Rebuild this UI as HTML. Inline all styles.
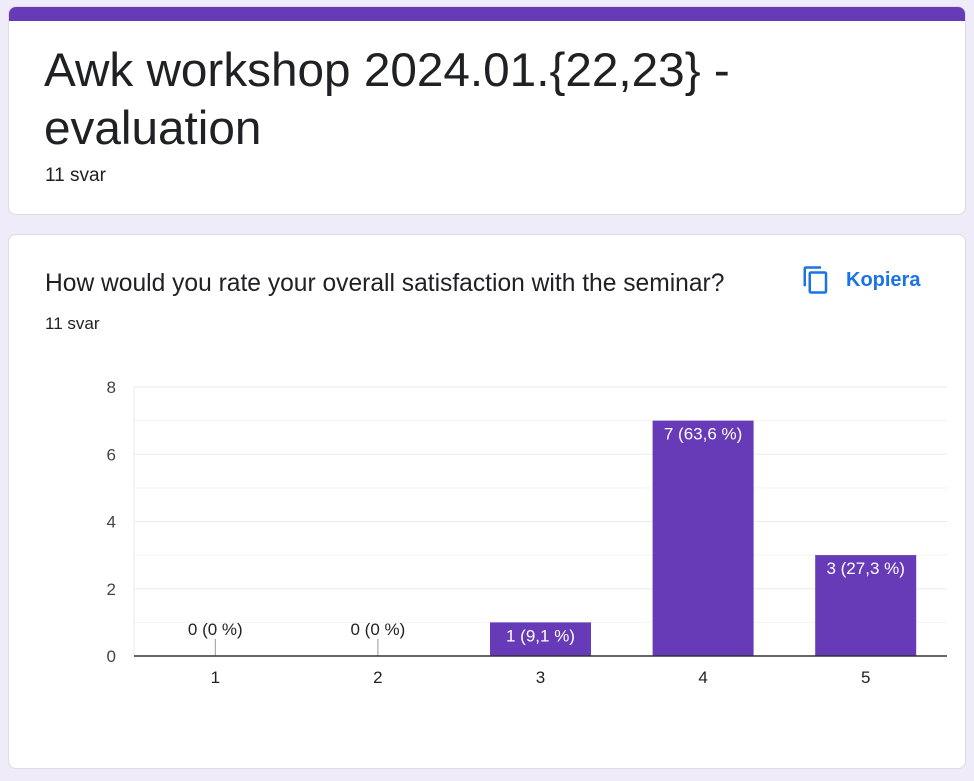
<!DOCTYPE html>
<html><head><meta charset="utf-8"><style>
body{margin:0;width:974px;height:781px;background:#efebf8;font-family:"Liberation Sans",sans-serif;position:relative;overflow:hidden}
.card{position:absolute;left:8px;width:958px;background:#fff;border:1px solid #dadce0;border-radius:8px;box-sizing:border-box;overflow:hidden}
</style></head><body>
<div class="card" style="top:6px;height:209px">
 <div style="height:14px;background:#673ab7"></div>
 <div style="position:absolute;left:35px;top:35px;font-size:47.7px;line-height:58px;color:#202124;width:850px">Awk workshop 2024.01.{22,23} - evaluation</div>
 <div style="position:absolute;left:36px;top:158px;font-size:19px;color:#202124">11 svar</div>
</div>
<div class="card" style="top:234px;height:535px">
 <div style="position:absolute;left:36px;top:35px;font-size:24.6px;color:#202124;white-space:nowrap">How would you rate your overall satisfaction with the seminar?</div>
 <div style="position:absolute;left:36px;top:79px;font-size:17px;color:#202124">11 svar</div>
 <div style="position:absolute;left:792px;top:28px;height:34px;display:flex;align-items:center;color:#1a73e8;font-size:20px;font-weight:bold">
  <svg width="30" height="32" viewBox="0 0 24 24" style="margin-right:15px"><path fill="#1a73e8" d="M16 1H4c-1.1 0-2 .9-2 2v14h2V3h12V1zm3 4H8c-1.1 0-2 .9-2 2v14c0 1.1.9 2 2 2h11c1.1 0 2-.9 2-2V7c0-1.1-.9-2-2-2zm0 16H8V7h11v14z"/></svg>Kopiera</div>
</div>
<svg id="chart" width="974" height="781" style="position:absolute;left:0;top:0" font-family="Liberation Sans, sans-serif"></svg>
<script>
const categories=["1","2","3","4","5"];
const values=[0,0,1,7,3];
const labels=["0 (0 %)","0 (0 %)","1 (9,1 %)","7 (63,6 %)","3 (27,3 %)"];
const yTicks=[0,2,4,6,8];
const svg=document.getElementById('chart');
const NS='http://www.w3.org/2000/svg';
const L=134,R=947,T=387,B=656,yMax=8;
const y=v=>B-(v/yMax)*(B-T);
const bw=(R-L)/categories.length;
const x=i=>L+bw*(i+0.5);
function mk(t,a){const e=document.createElementNS(NS,t);for(const k in a)e.setAttribute(k,a[k]);svg.appendChild(e);return e;}
for(let v=1;v<=yMax;v++){const g=mk('line',{x1:L,x2:R,y1:y(v),y2:y(v),stroke:v%2?'#f3f3f3':'#ebebeb'});

}
mk('line',{x1:L,x2:L,y1:T,y2:B,stroke:'#ebebeb'});
yTicks.forEach(v=>{const t=mk('text',{x:116,y:y(v)+6,'text-anchor':'end','font-size':17,fill:'#444'});t.textContent=v;

});
categories.forEach((c,i)=>{
 const cx=x(i),h=B-y(values[i]);
 const r=mk('rect',{x:cx-50.5,y:y(values[i]),width:101,height:Math.max(h,0),fill:'#673ab7'});
 
 
 const lab=mk('text',{'text-anchor':'middle','font-size':17});
 
 
 lab.textContent=labels[i];
 if(h>30){lab.setAttribute('x',cx);lab.setAttribute('y',y(values[i])+19);lab.setAttribute('fill','#fff');}
 else{lab.setAttribute('x',cx);lab.setAttribute('y',y(values[i])-21);lab.setAttribute('fill','#222');
  if(h<2)mk('line',{x1:cx,x2:cx,y1:B-17,y2:B,stroke:'#999'});}
 const t=mk('text',{x:cx,y:683,'text-anchor':'middle','font-size':17,fill:'#222'});t.textContent=c;
 
 
});
const ax=mk('line',{x1:L,x2:R,y1:B,y2:B,stroke:'#333','stroke-width':1.5});


</script>
</body></html>
